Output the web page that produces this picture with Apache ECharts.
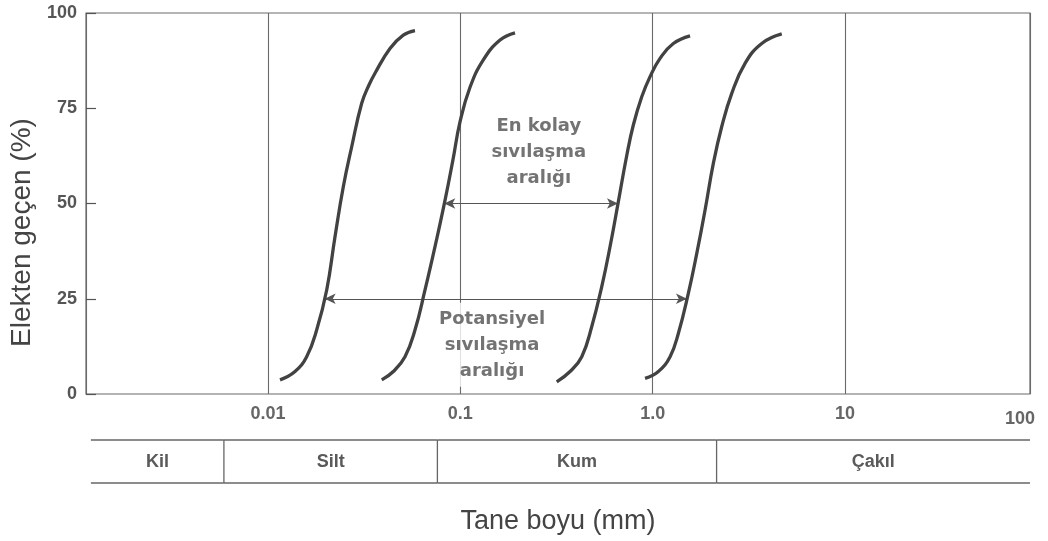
<!DOCTYPE html>
<html>
<head>
<meta charset="utf-8">
<script src="https://cdn.jsdelivr.net/npm/echarts@6/dist/echarts.min.js"></script>
<style>
html,body{margin:0;padding:0;background:#fff;}
#chart{width:1048px;height:541px;}
</style>
</head>
<body>
<div id="chart"></div>
<script>
// ---- data ----
const xTickValues = [0.01, 0.1, 1, 10, 100];
const xTickLabels = ['0.01', '0.1', '1.0', '10', '100'];
const yTickLabels = ['0', '25', '50', '75', '100'];

const curveA = [[0.01155,3.7],[0.01382,5.9],[0.01589,9.8],[0.01791,16.8],[0.02020,27.3],[0.02231,41.3],[0.02464,54.4],[0.02725,64.9],[0.03071,76.3],[0.03350,81.1],[0.03601,84.2],[0.04309,90.7],[0.05052,94.2],[0.05812,95.4]];
const curveB = [[0.03903,3.7],[0.04484,5.9],[0.05157,9.8],[0.05812,16.8],[0.06553,27.3],[0.07388,38.7],[0.08330,50.9],[0.09150,61.4],[0.09963,71.4],[0.1123,80.5],[0.1317,87.7],[0.1609,92.9],[0.1925,94.8]];
const curveC = [[0.3171,3.2],[0.3720,5.9],[0.4280,9.8],[0.4825,17.7],[0.5437,28.2],[0.6006,38.7],[0.6633,50.5],[0.7334,62.6],[0.7936,70.6],[0.8777,78.0],[0.9694,83.3],[1.0928,88.1],[1.281,92.0],[1.565,94.0]];
const curveD = [[0.9131,4.1],[1.071,5.9],[1.232,9.8],[1.360,15.9],[1.533,26.4],[1.696,36.9],[1.873,48.3],[2.069,60.6],[2.287,70.2],[2.578,78.9],[3.023,86.8],[3.692,92.0],[4.691,94.5]];

const arrowEasy = [[0.0825, 50], [0.6604, 50]];
const arrowPotential = [[0.0197, 25], [1.508, 25]];

const noteTexts = ['En kolay\nsıvılaşma\naralığı', 'Potansiyel\nsıvılaşma\naralığı'];
const notePoints = [[0.2560, 63.3], [0.1462, 12.9]];

const bandNames = ['Kil', 'Silt', 'Kum', 'Çakıl'];
const bandStarts = [0.0012, 0.0059, 0.076, 2.15];
const bandEnds = [0.0059, 0.076, 2.15, 91.6];

const xMin = 0.001132, xMax = 91.6;

// ---- chart ----
const chart = echarts.init(document.getElementById('chart'), null, {renderer: 'canvas'});
const curveColor = '#424242';
const textColor = '#505050';

function curveSeries(name, data) {
  return {
    name, type: 'line', data, smooth: 0.45, showSymbol: false, symbol: 'none',
    xAxisIndex: 0, yAxisIndex: 0, silent: true,
    lineStyle: {color: curveColor, width: 3.3}, z: 5
  };
}

const option = {
  backgroundColor: '#fff',
  animation: false,
  grid: [
    {left: 86, right: 18, top: 13, bottom: 147, show: true, borderColor: '#6a6a6a', borderWidth: 1.2},
    {left: 86, right: 18, top: 440, height: 43, show: false}
  ],
  xAxis: [
    {
      type: 'log', gridIndex: 0, min: xMin, max: xMax, logBase: 10,
      name: 'Tane boyu (mm)', nameLocation: 'middle', nameGap: 114,
      nameTextStyle: {fontFamily: 'Liberation Sans', fontSize: 27, color: '#444'},
      axisLine: {show: false},
      axisTick: {show: false},
      splitLine: {show: true, lineStyle: {color: '#6a6a6a', width: 1.1}},
      axisLabel: {
        show: true, margin: 11, fontFamily: 'Liberation Sans', fontSize: 18, fontWeight: 'bold', color: '#666',
        formatter: function (v) {
          const lv = Math.log10(v);
          const e = Math.round(lv);
          if (Math.abs(lv - e) > 0.02) {
            return v > 50 ? '{r|' + xTickLabels[4] + '}' : '';
          }
          const i = xTickValues.findIndex(t => Math.abs(Math.log10(t) - e) < 0.01);
          return i >= 0 ? xTickLabels[i] : '';
        },
        rich: {r: {fontFamily: 'Liberation Sans', fontSize: 18, fontWeight: 'bold', color: '#666', padding: [5, 20, 0, 0]}}
      }
    },
    {type: 'log', gridIndex: 1, min: xMin, max: xMax, show: false}
  ],
  yAxis: [
    {
      type: 'value', gridIndex: 0, min: 0, max: 100, interval: 25,
      name: 'Elekten geçen (%)', nameLocation: 'middle', nameGap: 48,
      nameTextStyle: {fontFamily: 'Liberation Sans', fontSize: 28, color: '#444', padding: [0, 58, 0, 0]},
      axisLine: {show: false},
      axisTick: {show: true, inside: true, length: 10, lineStyle: {color: '#555', width: 1.2}},
      splitLine: {show: false},
      axisLabel: {
        margin: 9, fontFamily: 'Liberation Sans', fontSize: 18, fontWeight: 'bold', color: '#555',
        formatter: function (v) { return yTickLabels[Math.round(v / 25)]; }
      }
    },
    {type: 'value', gridIndex: 1, min: 0, max: 1, show: false}
  ],
  series: [
    curveSeries('A', curveA),
    curveSeries('B', curveB),
    curveSeries('C', curveC),
    curveSeries('D', curveD),
    {
      name: 'arrows', type: 'line', data: [], xAxisIndex: 0, yAxisIndex: 0, silent: true,
      markLine: {
        silent: true, symbol: ['arrow', 'arrow'], symbolSize: [8, 11],
        label: {show: false},
        lineStyle: {color: '#555', width: 1.2, type: 'solid'},
        emphasis: {disabled: true},
        data: [
          [{coord: arrowEasy[0]}, {coord: arrowEasy[1]}],
          [{coord: arrowPotential[0]}, {coord: arrowPotential[1]}]
        ]
      },
      z: 4
    },
    {
      name: 'notes', type: 'scatter', xAxisIndex: 0, yAxisIndex: 0, silent: true,
      symbolSize: 0,
      data: notePoints.map((p, i) => ({
        value: p,
        label: i === 1 ? {backgroundColor: '#fff', padding: [3, 3]} : {}
      })),
      label: {
        show: true, position: 'inside',
        formatter: p => noteTexts[p.dataIndex],
        fontFamily: 'DejaVu Sans', fontWeight: 'bold', fontSize: 18, lineHeight: 26,
        color: textColor, align: 'center'
      },
      z: 6
    },
    {
      name: 'bands', type: 'custom', xAxisIndex: 1, yAxisIndex: 1, silent: true,
      encode: {x: [0, 1], y: 2},
      data: bandNames.map((n, i) => [bandStarts[i], bandEnds[i], 0.5]),
      renderItem: function (params, api) {
        const a = api.coord([api.value(0), 1]);
        const b = api.coord([api.value(1), 0]);
        const st = {stroke: '#666', lineWidth: 1.3};
        const children = [
          {type: 'line', shape: {x1: a[0], y1: a[1], x2: b[0], y2: a[1]}, style: st},
          {type: 'line', shape: {x1: a[0], y1: b[1], x2: b[0], y2: b[1]}, style: st},
          {type: 'text', style: {
            text: bandNames[params.dataIndex], x: (a[0] + b[0]) / 2, y: (a[1] + b[1]) / 2 + 1,
            textAlign: 'center', textVerticalAlign: 'middle', align: 'center', verticalAlign: 'middle',
            font: 'bold 18px "Liberation Sans"', fill: '#5a5a5a'
          }}
        ];
        if (params.dataIndex > 0) {
          children.push({type: 'line', shape: {x1: a[0], y1: a[1], x2: a[0], y2: b[1]}, style: st});
        }
        return {type: 'group', children};
      }
    }
  ]
};
chart.setOption(option);
</script>
</body>
</html>
